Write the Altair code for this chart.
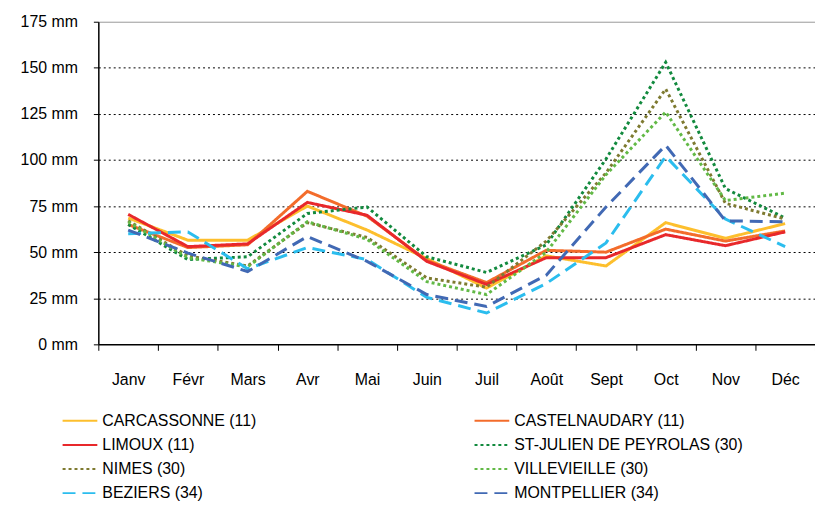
import altair as alt
import pandas as pd

months = ["Janv", "Févr", "Mars", "Avr", "Mai", "Juin", "Juil", "Août", "Sept", "Oct", "Nov", "Déc"]
stations = [
    "CARCASSONNE (11)", "CASTELNAUDARY (11)", "LIMOUX (11)",
    "ST-JULIEN DE PEYROLAS (30)", "NIMES (30)", "VILLEVIEILLE (30)",
    "BEZIERS (34)", "MONTPELLIER (34)",
]
carcassonne = [68.5, 56.5, 56.5, 75, 62, 46.5, 30.5, 48, 42.5, 66, 57.5, 65.5]
castelnaudary = [65, 52.5, 54, 83, 69.5, 45.5, 33.5, 51, 50, 62.5, 56, 61.5]
limoux = [70.5, 53, 54.5, 77, 70, 45, 32.5, 47, 47, 59.5, 53.5, 61]
st_julien = [65, 46, 47.5, 71, 74.5, 47.5, 39, 54, 100.5, 153, 84.5, 68.5]
nimes = [67, 48, 42.5, 66, 58, 36, 31, 56, 93, 138.5, 76.5, 68]
villevieille = [66.5, 47, 42, 66.5, 57, 34, 27, 50, 92, 126, 78, 82]
beziers = [60, 61, 41, 52.5, 46, 25.5, 17, 33, 55, 102, 68, 53]
montpellier = [62, 49.5, 39.5, 58.5, 45, 27, 20.5, 37.5, 74.5, 108, 67, 66.5]

series = [carcassonne, castelnaudary, limoux, st_julien, nimes, villevieille, beziers, montpellier]
colors = ["#FDBF2D", "#F36C2B", "#E8282B", "#128A3E", "#7E7A30", "#62B946", "#2BBDEE", "#4169B4"]
dashes = [[1, 0], [1, 0], [1, 0], [3, 3], [3, 3], [3, 3], [13, 7], [13, 7]]
y_ticks = [0, 25, 50, 75, 100, 125, 150, 175]

rows = []
for name, vals in zip(stations, series):
    for m, v in zip(months, vals):
        rows.append({"station": name, "month": m, "value": v})
df = pd.DataFrame(rows)

FONT = "Liberation Sans"

legend = alt.Legend(
    title=None, orient="none", legendX=-26.5, legendY=394, columns=2, direction="horizontal",
    columnPadding=215, rowPadding=8.3, symbolType="M-2.5,0H2.5", symbolSize=196,
    symbolStrokeWidth=2, labelFont=FONT, labelFontSize=16, labelColor="black",
    labelOffset=14.5, labelLimit=400,
)

chart = alt.Chart(df).mark_line(strokeWidth=3).encode(
    x=alt.X("month:N", sort=months,
            scale=alt.Scale(type="band", paddingInner=0, paddingOuter=0),
            axis=alt.Axis(title=None, labelAngle=0, tickBand="extent", tickSize=6,
                          domainColor="black", tickColor="black", domainWidth=1.5,
                          labelFont=FONT, labelFontSize=16, labelColor="black",
                          labelPadding=21, grid=False)),
    y=alt.Y("value:Q", scale=alt.Scale(domain=[0, 175], nice=False),
            axis=alt.Axis(title=None, values=y_ticks, labelExpr="datum.value + ' mm'",
                          tickSize=5, domainColor="black", tickColor="black", domainWidth=1.5,
                          labelFont=FONT, labelFontSize=16, labelColor="black",
                          labelPadding=16,
                          gridColor={"condition": {"test": "datum.value === 175", "value": "#999999"}, "value": "black"},
                          gridDash={"condition": {"test": "datum.value === 175", "value": []}, "value": [2, 3]},
                          gridOpacity={"condition": {"test": "datum.value === 0", "value": 0}, "value": 1})),
    color=alt.Color("station:N", scale=alt.Scale(domain=stations, range=colors), legend=legend),
    strokeDash=alt.StrokeDash("station:N", scale=alt.Scale(domain=stations, range=dashes), legend=legend),
).properties(
    width=722, height=325,
    autosize=alt.AutoSizeParams(type="none"),
    padding={"left": 91, "top": 12, "right": 0, "bottom": 156},
).configure_view(stroke=None)

chart.save("out.html", embed_options={"renderer": "svg", "actions": False})
